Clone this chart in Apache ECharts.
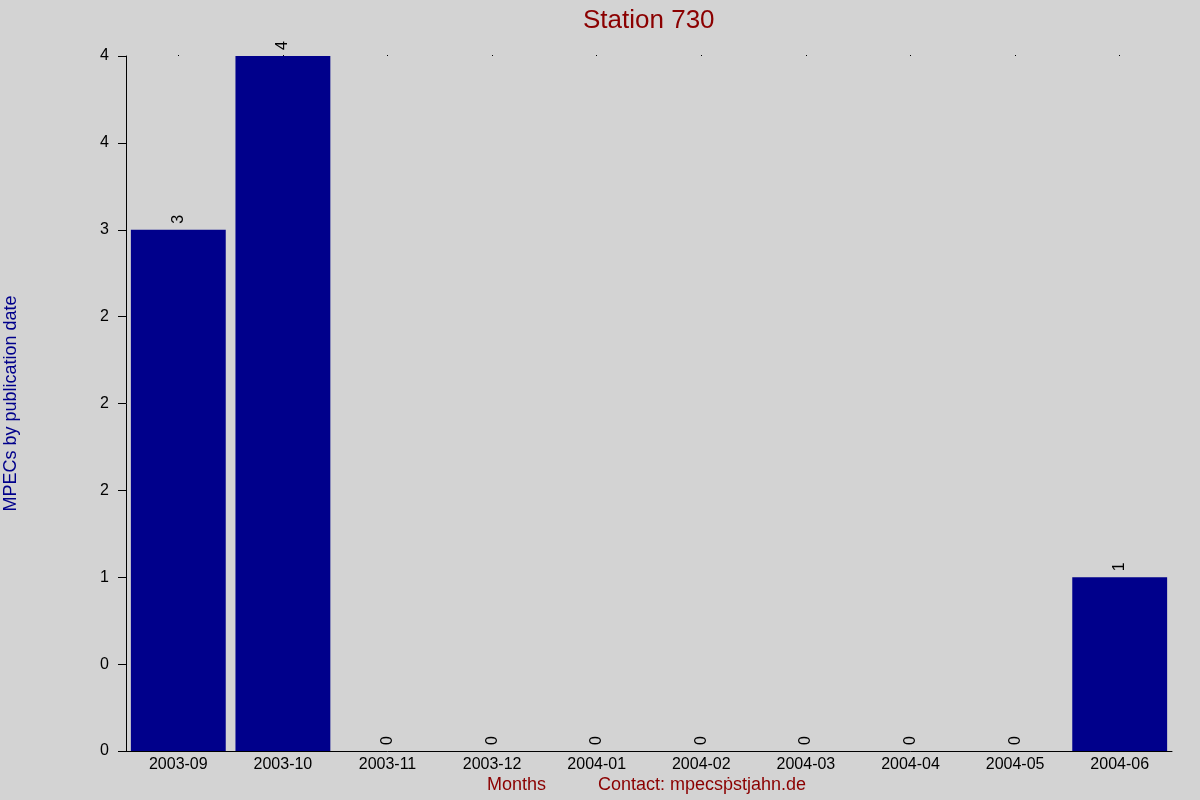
<!DOCTYPE html>
<html>
<head>
<meta charset="utf-8">
<script src="https://cdn.jsdelivr.net/npm/echarts@6/dist/echarts.min.js"></script>
<style>html,body{margin:0;padding:0;background:#D3D3D3;}#c{width:1200px;height:800px;}</style>
</head>
<body>
<div id="c"></div>
<script>
const categories = ['2003-09','2003-10','2003-11','2003-12','2004-01','2004-02','2004-03','2004-04','2004-05','2004-06'];
const counts = [3, 4, 0, 0, 0, 0, 0, 0, 0, 1];
const yTickLabels = ['0','0','1','2','2','2','3','4','4'];

const chart = echarts.init(document.getElementById('c'));
const font = 'Liberation Sans, Arial, sans-serif';
chart.setOption({
  backgroundColor: '#D3D3D3',
  animation: false,
  title: {
    text: 'Station 730',
    left: 583, top: 8, padding: 0,
    textStyle: { color: '#8B0000', fontSize: 26, fontWeight: 'normal', fontFamily: font }
  },
  grid: { left: 126, right: 28, top: 56, bottom: 49, containLabel: false, outerBoundsMode: 'none' },
  xAxis: [{
    type: 'category',
    data: categories,
    axisLine: { show: true, lineStyle: { color: '#000', width: 1 } },
    axisTick: { show: false },
    axisLabel: { color: '#000', fontSize: 16, fontFamily: font, margin: 6, interval: 0 }
  }, {
    type: 'category',
    position: 'top',
    data: categories,
    axisLine: { show: false },
    axisTick: { show: true, length: 1, alignWithLabel: true, lineStyle: { color: '#000' } },
    axisLabel: { show: false }
  }],
  yAxis: {
    type: 'value',
    min: 0, max: 4, interval: 0.5,
    name: 'MPECs by publication date',
    nameLocation: 'middle',
    nameRotate: 90,
    nameGap: 106,
    nameTextStyle: { color: '#00008B', fontSize: 18, fontFamily: font },
    axisLine: { show: true, lineStyle: { color: '#000', width: 1 } },
    axisTick: { show: true, length: 8, inside: false, lineStyle: { color: '#000' } },
    splitLine: { show: false },
    axisLabel: {
      color: '#000', fontSize: 16, fontFamily: font, margin: 17,
      formatter: function (v) { return yTickLabels[Math.round(v / 0.5)]; }
    }
  },
  series: [{
    type: 'bar',
    data: counts,
    barCategoryGap: '9.3%',
    itemStyle: { color: '#00008B' },
    label: {
      show: true,
      position: 'top',
      rotate: 90,
      align: 'left',
      verticalAlign: 'middle',
      distance: 6,
      color: '#000',
      fontSize: 16,
      fontFamily: font
    }
  }],
  graphic: [
    { type: 'text', left: 487, top: 776, style: { text: 'Months', fill: '#8B0000', fontSize: 18, fontFamily: font } },
    { type: 'text', left: 598, top: 776, style: { text: 'Contact: mpecsṗstjahn.de', fill: '#8B0000', fontSize: 18, fontFamily: font } }
  ]
});
</script>
</body>
</html>
